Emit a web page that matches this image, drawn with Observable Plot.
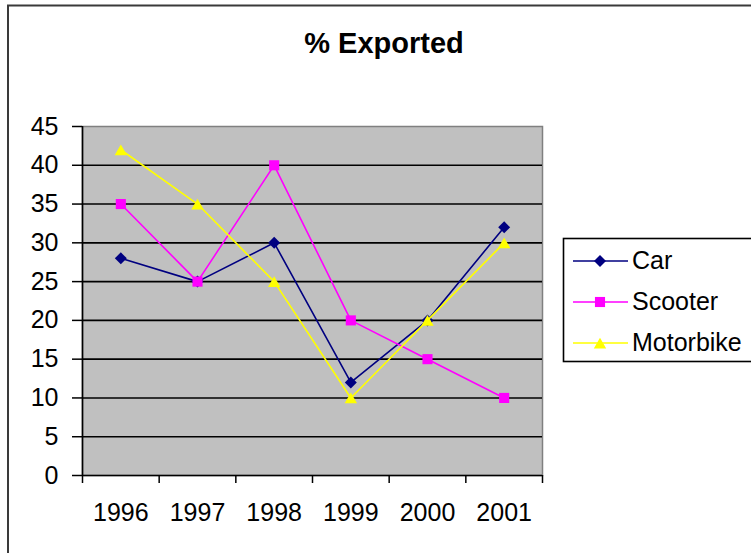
<!DOCTYPE html>
<html><head><meta charset="utf-8">
<script src="https://cdn.jsdelivr.net/npm/d3@7"></script>
<script src="https://cdn.jsdelivr.net/npm/@observablehq/plot@0.6"></script>
<style>
html,body{margin:0;padding:0;background:#fff;}
#wrap{position:relative;width:751px;height:553px;overflow:hidden;background:#fff;}
</style></head><body><div id="wrap"></div>
<script>
const years = [1996, 1997, 1998, 1999, 2000, 2001];
const car = [28, 25, 30, 12, 20, 32];
const scooter = [35, 25, 40, 20, 15, 10];
const motorbike = [42, 35, 25, 10, 20, 30];
const seriesNames = ["Car", "Scooter", "Motorbike"];
const seriesColors = ["#000080", "#FF00FF", "#FFFF00"];
const seriesSymbols = ["diamond2", "square", "triangle"];
const seriesR = [5.4, 5.7, 4.6];
const seriesDy = [0, 0, 1.8];
const yTicks = [0, 5, 10, 15, 20, 25, 30, 35, 40, 45];
const titleText = "% Exported";

const FONT = "'Liberation Sans', Arial, sans-serif";
const allSeries = [car, scooter, motorbike];
const data = [];
allSeries.forEach((vals, i) => vals.forEach((v, j) => data.push({series: seriesNames[i], year: years[j], value: v})));
const boundaries = years.map(y => y - 0.5).concat([years[years.length - 1] + 0.5]);

const seriesMarks = [];
seriesNames.forEach((name, i) => {
  const rows = data.filter(d => d.series === name);
  seriesMarks.push(Plot.line(rows, {x: "year", y: "value", stroke: seriesColors[i], strokeWidth: 1.6}));
  seriesMarks.push(Plot.dot(rows, {x: "year", y: "value", symbol: seriesSymbols[i], r: seriesR[i], fill: seriesColors[i], stroke: "none", dy: seriesDy[i]}));
});

const chart = Plot.plot({
  width: 751,
  height: 553,
  marginLeft: 82,
  marginRight: 209,
  marginTop: 126,
  marginBottom: 78,
  style: {fontFamily: FONT, fontSize: "25px", color: "#000", background: "transparent", overflow: "visible"},
  x: {type: "linear", domain: [boundaries[0], boundaries[boundaries.length - 1]]},
  y: {type: "linear", domain: [0, 45]},
  marks: [
    Plot.frame({fill: "#c0c0c0", stroke: "#808080", strokeWidth: 1.5}),
    Plot.gridY(yTicks.filter(t => t > 0 && t < 45), {stroke: "#000", strokeOpacity: 1, strokeWidth: 1.6}),
    Plot.axisY({ticks: yTicks, tickSize: 10, tickPadding: 14, fontSize: 25, label: null, strokeWidth: 1.5}),
    Plot.axisX({ticks: boundaries, tickSize: 8, tickFormat: () => "", label: null, strokeWidth: 1.5}),
    Plot.axisX({ticks: years, tickSize: 0, tickPadding: 28, tickFormat: d => String(d), fontSize: 25, label: null}),
    Plot.ruleX([boundaries[0]], {stroke: "#000", strokeWidth: 1.6}),
    Plot.ruleY([0], {stroke: "#000", strokeWidth: 1.6}),
    ...seriesMarks
  ]
});

const wrap = document.getElementById("wrap");
wrap.appendChild(chart);
const svg = d3.select(chart);

// outer chart-area border (cut off at right and bottom)
svg.append("rect").attr("x", 8).attr("y", 5.5).attr("width", 900).attr("height", 700)
  .attr("fill", "none").attr("stroke", "#3a3a3a").attr("stroke-width", 2);

// title
svg.append("text").attr("x", 384).attr("y", 53).attr("text-anchor", "middle")
  .style("font-family", FONT).style("font-size", "29px").style("font-weight", "bold")
  .attr("fill", "#000").text(titleText);

// legend
const lg = svg.append("g");
lg.append("rect").attr("x", 563.5).attr("y", 238.5).attr("width", 260).attr("height", 123)
  .attr("fill", "#fff").attr("stroke", "#000").attr("stroke-width", 1.6);
const legendY = [261, 302, 343];
const symMap = {diamond2: d3.symbolDiamond2, square: d3.symbolSquare, triangle: d3.symbolTriangle};
seriesNames.forEach((name, i) => {
  const y = legendY[i];
  lg.append("line").attr("x1", 573).attr("x2", 628).attr("y1", y).attr("y2", y)
    .attr("stroke", seriesColors[i]).attr("stroke-width", 1.6);
  lg.append("path").attr("d", d3.symbol(symMap[seriesSymbols[i]], Math.PI * seriesR[i] * seriesR[i])())
    .attr("transform", `translate(600,${y + seriesDy[i]})`).attr("fill", seriesColors[i]);
  lg.append("text").attr("x", 632).attr("y", y + 7.5).attr("text-anchor", "start")
    .style("text-anchor", "start")
    .style("font-family", FONT).style("font-size", "25px").attr("fill", "#000").text(name);
});
</script>
</body></html>
